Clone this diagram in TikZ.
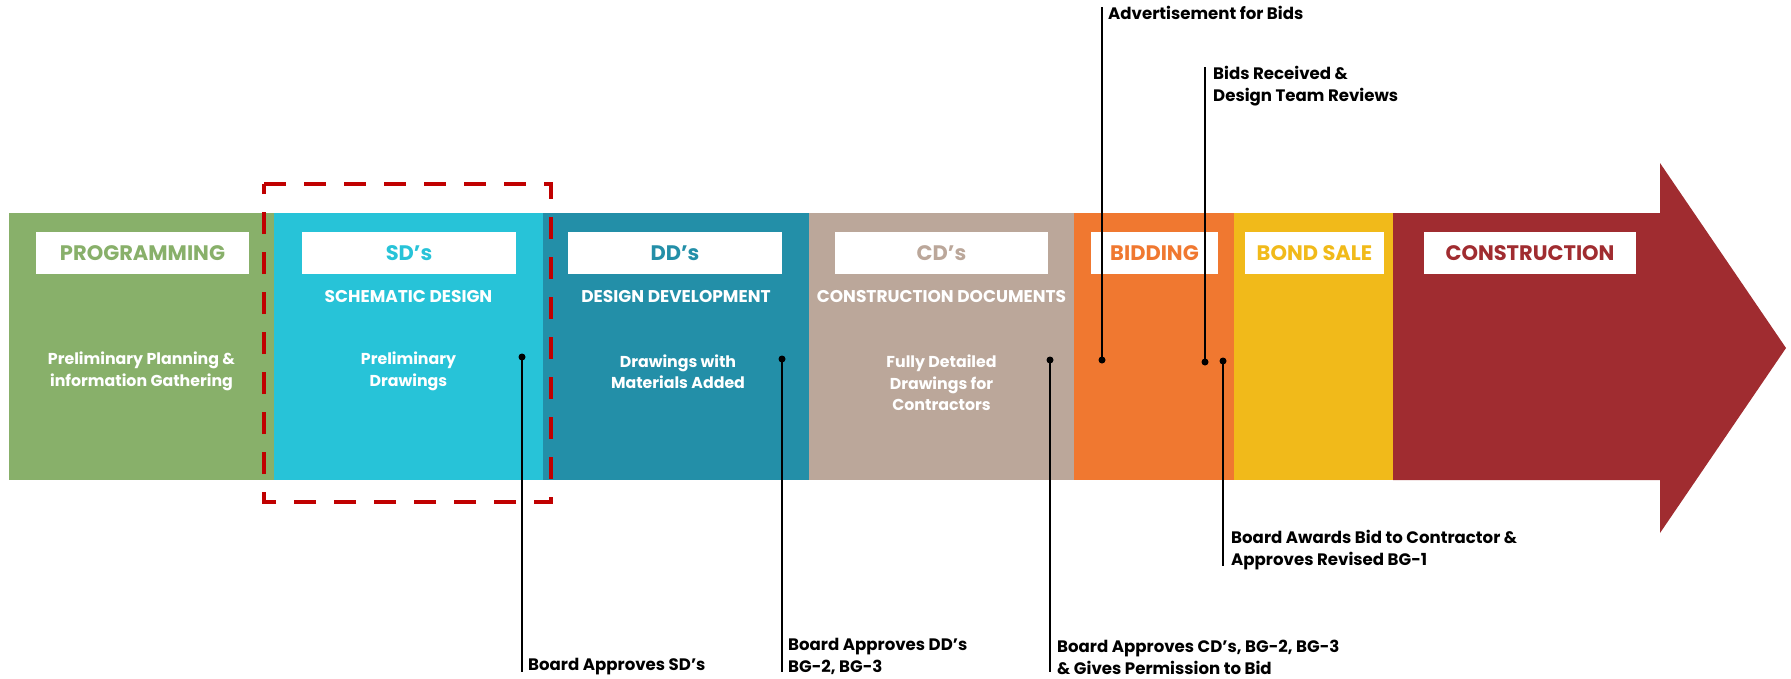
\documentclass[tikz,border=0pt]{standalone}
\usepackage{fontspec}
\setmainfont{Poppins}
\definecolor{progGreen}{HTML}{88B06A}
\definecolor{sdCyan}{HTML}{27C3D8}
\definecolor{ddTeal}{HTML}{238FA8}
\definecolor{cdTan}{HTML}{BBA79A}
\definecolor{bidOrange}{HTML}{F07830}
\definecolor{bondYellow}{HTML}{F1BA1A}
\definecolor{conRed}{HTML}{A02C30}
\definecolor{focusRed}{HTML}{C00000}
\tikzset{
  phasebox/.style={rectangle, inner sep=0pt, minimum height=267, minimum width=#1},
  phasehead/.style={rectangle, fill=white, inner sep=0pt, minimum height=42, minimum width=#1, font=\fontsize{21}{24}\selectfont\bfseries},
  phasesub/.style={text=white, inner sep=0pt, font=\fontsize{17}{20}\selectfont\bfseries},
  phasetext/.style={text=white, inner sep=0pt, align=center, font=\fontsize{15.8}{21.5}\selectfont\bfseries},
  milestonedot/.style={circle, fill=black, inner sep=0pt, minimum size=7},
  milestone/.style={inner sep=0pt, align=left, font=\fontsize{16.6}{22}\selectfont\bfseries},
  milestoneline/.style={line width=2, black}
}
\begin{document}
\begin{tikzpicture}[x=1pt, y=-1pt]
  \useasboundingbox (0, 0) rectangle (1791, 678);
  % Phases
  \node (prog) [phasebox=265, fill=progGreen] at (141.5, 346.5) {};
  \node (sd) [phasebox=269, fill=sdCyan] at (408.5, 346.5) {};
  \node (dd) [phasebox=266, fill=ddTeal] at (676, 346.5) {};
  \node (cd) [phasebox=265, fill=cdTan] at (941.5, 346.5) {};
  \node (bid) [phasebox=160, fill=bidOrange] at (1154, 346.5) {};
  \node (bond) [phasebox=159, fill=bondYellow] at (1313.5, 346.5) {};
  \fill[conRed] (1393, 213) -- (1660, 213) -- (1660, 163) -- (1786, 348) -- (1660, 533) -- (1660, 480) -- (1393, 480) -- cycle;
  % Headers
  \node (prog-head) [phasehead=213, text=progGreen] at (142.5, 253) {PROGRAMMING};
  \node (sd-head) [phasehead=214, text=sdCyan] at (409, 253) {SD's};
  \node (dd-head) [phasehead=214, text=ddTeal] at (675, 253) {DD's};
  \node (cd-head) [phasehead=213, text=cdTan] at (941.5, 253) {CD's};
  \node (bid-head) [phasehead=127, text=bidOrange] at (1154.5, 253) {BIDDING};
  \node (bond-head) [phasehead=139, text=bondYellow] at (1314.5, 253) {BOND SALE};
  \node (con-head) [phasehead=212, text=conRed] at (1530, 253) {CONSTRUCTION};
  \node (sd-sub) [phasesub] at (408.5, 297) {SCHEMATIC DESIGN};
  \node (dd-sub) [phasesub] at (676, 297) {DESIGN DEVELOPMENT};
  \node (cd-sub) [phasesub] at (941.5, 297) {CONSTRUCTION DOCUMENTS};
  \node (prog-text) [phasetext] at (141.5, 371.5) {Preliminary Planning \&\\information Gathering};
  \node (sd-text) [phasetext] at (408.5, 371.5) {Preliminary\\Drawings};
  \node (dd-text) [phasetext] at (678, 371.5) {Drawings with\\Materials Added};
  \node (cd-text) [phasetext] at (941.5, 383) {Fully Detailed\\Drawings for\\Contractors};
  % Focus box
  \draw[focusRed, line width=4.5, dash pattern=on 22 off 18] (264, 184) -- (551, 184) -- (551, 502) -- (264, 502) -- cycle;
  % Milestones
  \node (sd-dot) [milestonedot] at (522, 357) {};
  \node (dd-dot) [milestonedot] at (782, 359) {};
  \node (cd-dot) [milestonedot] at (1050, 360) {};
  \node (ad-dot) [milestonedot] at (1102, 360) {};
  \node (rev-dot) [milestonedot] at (1205, 362) {};
  \node (award-dot) [milestonedot] at (1223, 361) {};
  \coordinate (sd-end) at (522, 672);
  \coordinate (dd-end) at (782, 672);
  \coordinate (cd-end) at (1050, 672);
  \coordinate (ad-end) at (1102, 7);
  \coordinate (rev-end) at (1205, 67);
  \coordinate (award-end) at (1223, 566);
  \node (sd-label) [milestone, anchor=south west] at (528, 675) {Board Approves SD's};
  \node (dd-label) [milestone, anchor=south west] at (788, 675) {Board Approves DD's\\BG-2, BG-3};
  \node (cd-label) [milestone, anchor=south west] at (1057, 675) {Board Approves CD's, BG-2, BG-3\\\& Gives Permission to Bid};
  \node (ad-label) [milestone, anchor=north west] at (1108, 6) {Advertisement for Bids};
  \node (rev-label) [milestone, anchor=north west] at (1213, 66) {Bids Received \&\\Design Team Reviews};
  \node (award-label) [milestone, anchor=south west] at (1231, 570) {Board Awards Bid to Contractor \&\\Approves Revised BG-1};
  \draw[milestoneline] (sd-dot.center) -- (sd-end);
  \draw[milestoneline] (dd-dot.center) -- (dd-end);
  \draw[milestoneline] (cd-dot.center) -- (cd-end);
  \draw[milestoneline] (ad-dot.center) -- (ad-end);
  \draw[milestoneline] (rev-dot.center) -- (rev-end);
  \draw[milestoneline] (award-dot.center) -- (award-end);
\end{tikzpicture}
\end{document}
